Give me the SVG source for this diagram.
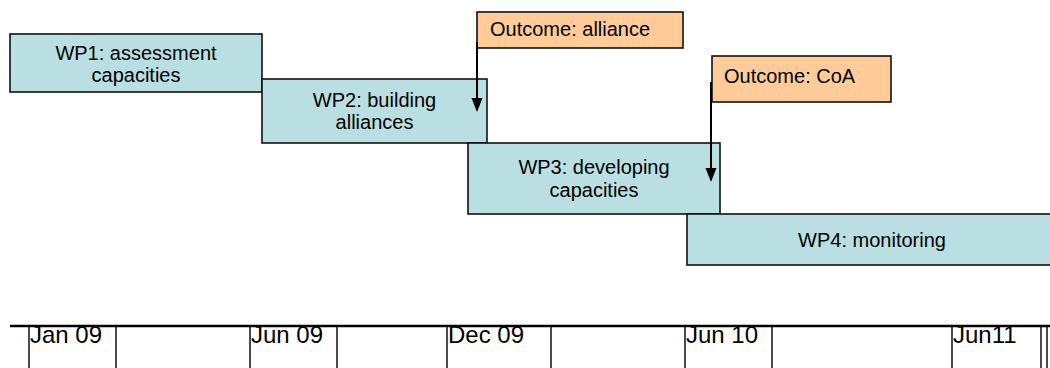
<svg xmlns="http://www.w3.org/2000/svg" width="1050" height="368" viewBox="0 0 1050 368">
<style>
.wp{fill:#B9DFE2;stroke:#111;stroke-width:1.6}
.oc{fill:#FFCC99;stroke:#111;stroke-width:1.6}
.dt{fill:#fff;stroke:#111;stroke-width:1.5}
text{font-family:"Liberation Sans",Arial,sans-serif;fill:#000}
.t{font-size:20px;text-anchor:middle}
.o{font-size:20px}
.d{font-size:24px}
.c{stroke:#000;stroke-width:2;fill:none}
.ah{fill:#000}
</style>
<rect x="0" y="0" width="1050" height="368" fill="#fff"/>
<g id="wp1"><rect class="wp" x="10" y="34" width="252" height="58"/><text class="t" x="136" y="60">WP1: assessment</text><text class="t" x="136" y="82">capacities</text></g>
<g id="wp2"><rect class="wp" x="262" y="79" width="225" height="64"/><text class="t" x="374.5" y="107">WP2: building</text><text class="t" x="374.5" y="129">alliances</text></g>
<g id="wp3"><rect class="wp" x="468" y="143" width="252" height="71"/><text class="t" x="594" y="174">WP3: developing</text><text class="t" x="594" y="197">capacities</text></g>
<g id="wp4"><rect class="wp" x="687" y="214" width="370" height="51"/><text class="t" x="872" y="247">WP4: monitoring</text></g>
<g id="outcome-alliance"><rect class="oc" x="477" y="12" width="206" height="36"/><text class="o" x="490" y="36">Outcome: alliance</text></g>
<g id="outcome-coa"><rect class="oc" x="712" y="56" width="179" height="46"/><text class="o" x="724" y="83">Outcome: CoA</text></g>
<g id="connectors">
<line class="c" x1="477" y1="42" x2="477" y2="98"/>
<path class="ah" d="M471.5,98 L482.5,98 L477,112 Z"/>
<line class="c" x1="711" y1="82" x2="711" y2="168"/>
<path class="ah" d="M705.5,168 L716.5,168 L711,182 Z"/>
</g>
<g id="timeline">
<rect class="dt" x="29" y="326" width="87" height="44"/><text class="d" x="30" y="343">Jan 09</text>
<rect class="dt" x="250" y="326" width="87" height="44"/><text class="d" x="251" y="343">Jun 09</text>
<rect class="dt" x="447" y="326" width="104" height="44"/><text class="d" x="448" y="343">Dec 09</text>
<rect class="dt" x="685" y="326" width="87" height="44"/><text class="d" x="686" y="343">Jun 10</text>
<rect class="dt" x="952" y="326" width="89" height="44"/><text class="d" x="953" y="343">Jun11</text>
<rect class="dt" x="1047" y="326" width="20" height="44"/>
<line x1="10" y1="326" x2="1050" y2="326" stroke="#000" stroke-width="2.5"/>
</g>
</svg>
